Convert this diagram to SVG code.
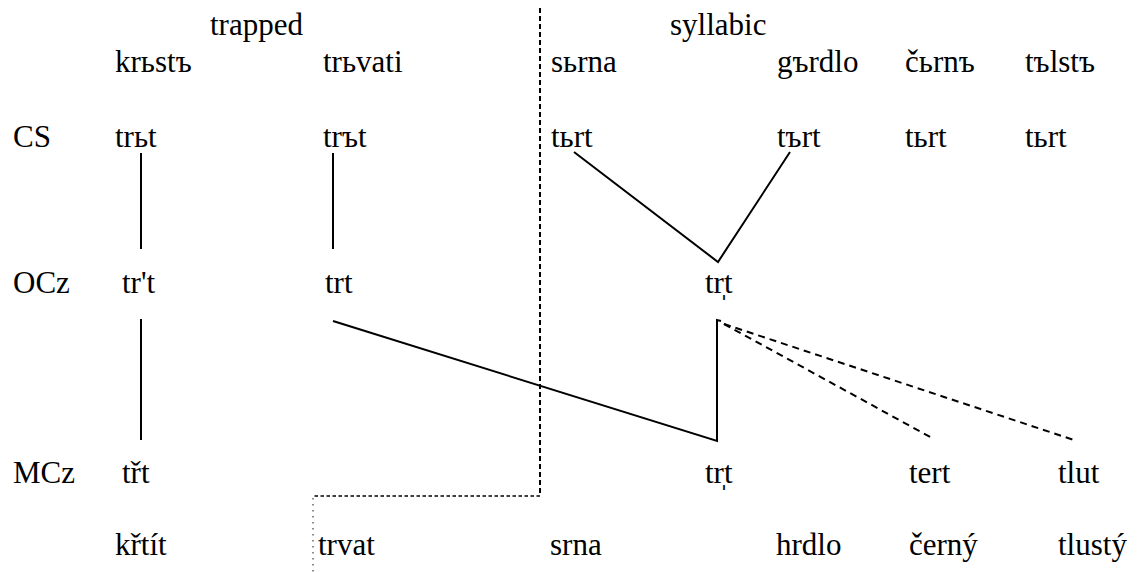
<svg xmlns="http://www.w3.org/2000/svg" width="1141" height="572" viewBox="0 0 1141 572">
<style>
text{font-family:"Liberation Serif","Times New Roman",serif;font-size:31px;fill:#000}
.s{fill:none;stroke:#000;stroke-width:2}
.d{fill:none;stroke:#000;stroke-width:2;stroke-dasharray:7,5}
.b{fill:none;stroke:#000;stroke-width:2;stroke-dasharray:5,3}
.h{fill:none;stroke:#000;stroke-width:1.5;stroke-dasharray:3.5,2.5}
.o{fill:none;stroke:#666;stroke-width:1.5;stroke-dasharray:1.5,4.5}
</style>
<rect width="1141" height="572" fill="#fff"/>
<g id="connectors">
<line class="b" x1="540" y1="8" x2="540" y2="496"/>
<line class="h" x1="540" y1="496" x2="313" y2="496"/>
<line class="o" x1="313" y1="498" x2="313" y2="572"/>
<line class="s" x1="141" y1="153" x2="141" y2="249"/>
<line class="s" x1="333" y1="153" x2="333" y2="249"/>
<polyline class="s" points="574,152 718,262 790,152"/>
<line class="s" x1="141" y1="319" x2="141" y2="440"/>
<polyline class="s" points="333,321 717,441 717,320 721,321"/>
<line class="d" x1="724" y1="324" x2="932" y2="438"/>
<line class="d" x1="724" y1="324" x2="1077" y2="441"/>
</g>
<g id="hdr-trapped"><text x="210" y="35">trapped</text></g>
<g id="hdr-syllabic"><text x="670" y="35">syllabic</text></g>
<g id="w-krbstb"><text x="115" y="72">krьstъ</text></g>
<g id="w-trbvati"><text x="323" y="72">trьvati</text></g>
<g id="w-sbrna"><text x="551" y="72">sьrna</text></g>
<g id="w-gbrdlo"><text x="777" y="72">gъrdlo</text></g>
<g id="w-cbrnb"><text x="905" y="72">čьrnъ</text></g>
<g id="w-tblstb"><text x="1025" y="72">tъlstъ</text></g>
<g id="lbl-CS"><text x="13" y="147">CS</text></g>
<g id="cs-1"><text x="115" y="147">trьt</text></g>
<g id="cs-2"><text x="323" y="147">trъt</text></g>
<g id="cs-3"><text x="551" y="147">tьrt</text></g>
<g id="cs-4"><text x="777" y="147">tъrt</text></g>
<g id="cs-5"><text x="905" y="147">tьrt</text></g>
<g id="cs-6"><text x="1025" y="147">tьrt</text></g>
<g id="lbl-OCz"><text x="13" y="293">OCz</text></g>
<g id="ocz-1"><text x="122" y="293">tr't</text></g>
<g id="ocz-2"><text x="325" y="293">trt</text></g>
<g id="ocz-3"><text x="705" y="293">tr̩t</text></g>
<g id="lbl-MCz"><text x="13" y="483">MCz</text></g>
<g id="mcz-1"><text x="122" y="483">třt</text></g>
<g id="mcz-3"><text x="705" y="483">tr̩t</text></g>
<g id="mcz-5"><text x="909" y="483">tert</text></g>
<g id="mcz-6"><text x="1058" y="483">tlut</text></g>
<g id="b-krtit"><text x="115" y="555">křtít</text></g>
<g id="b-trvat"><text x="318" y="555">trvat</text></g>
<g id="b-srna"><text x="550" y="555">srna</text></g>
<g id="b-hrdlo"><text x="776" y="555">hrdlo</text></g>
<g id="b-cerny"><text x="909" y="555">černý</text></g>
<g id="b-tlusty"><text x="1058" y="555">tlustý</text></g>
</svg>
